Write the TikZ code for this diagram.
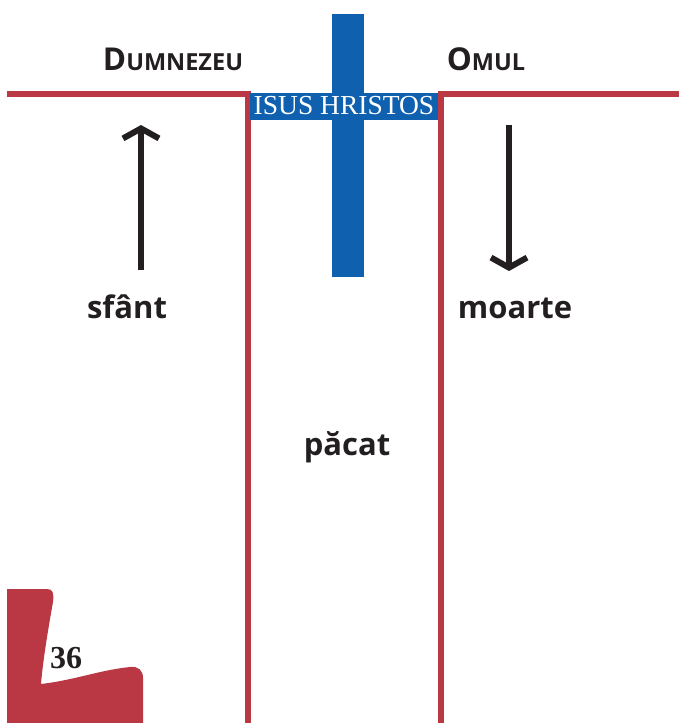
\documentclass[tikz,border=0pt]{standalone}
\usepackage{fontspec}
\setmainfont{Liberation Serif}
\newfontfamily\sansb{Open Sans}
\usetikzlibrary{arrows.meta}
\definecolor{pgred}{HTML}{B93843}
\definecolor{crossblue}{HTML}{1060B0}
\definecolor{ink}{HTML}{231F20}
\begin{document}
\begin{tikzpicture}[x=1pt,y=-1pt,
  redline/.style={draw=pgred,line width=6pt},
  bigarrow/.style={draw=ink,line width=6pt,-{Straight Barb[length=10pt,width=36pt,line width=6pt]}},
  word/.style={font=\sansb\bfseries\fontsize{31}{36}\selectfont,text=ink,inner sep=0pt},
  head/.style={text=ink,inner sep=0pt}
]
\useasboundingbox (0,0) rectangle (679,723);
% cross vertical
\fill[crossblue] (332,14) rectangle (364,277);
% red lines
\draw[redline] (7,94) -- (248,94) -- (248,726);
\draw[redline] (679,94) -- (441,94) -- (441,726);
% blue label box
\node[fill=crossblue,text=white,inner sep=0pt,minimum width=188pt,minimum height=27pt,
  font=\fontsize{27.5}{30}\selectfont] (jesus) at (344,106) {\raisebox{-1pt}{ISUS HRISTOS}};
% headings
\node[head,anchor=base] (god) at (173,70) {\sansb\bfseries\fontsize{31.5}{36}\selectfont D\fontsize{23.5}{30}\selectfont UMNEZEU};
\node[head,anchor=base] (man) at (486,70) {\sansb\bfseries\fontsize{31.5}{36}\selectfont O\fontsize{23.5}{30}\selectfont MUL};
% arrows
\coordinate (upS) at (141,270);
\coordinate (upE) at (141,125);
\coordinate (dnS) at (509,125);
\coordinate (dnE) at (509,271);
\draw[bigarrow] (upS) -- (upE);
\draw[bigarrow] (dnS) -- (dnE);
% words
\node[word,anchor=base] (holy) at (127,318) {sfânt};
\node[word,anchor=base] (death) at (515,318) {moarte};
\node[word,anchor=base] (sin) at (347,455) {păcat};
% page tab
\fill[pgred] (7,589) -- (47,589) .. controls (53,589) and (54,593) .. (53,602)
  .. controls (48,630) and (43,660) .. (41,684)
  .. controls (75,680) and (100,670) .. (130,667)
  .. controls (138,666) and (143,670) .. (143,678)
  -- (143,723) -- (7,723) -- cycle;
\node[inner sep=0pt,anchor=base,text=ink,font=\bfseries\fontsize{32}{34}\selectfont] (page) at (66,668) {36};
\end{tikzpicture}
\end{document}
